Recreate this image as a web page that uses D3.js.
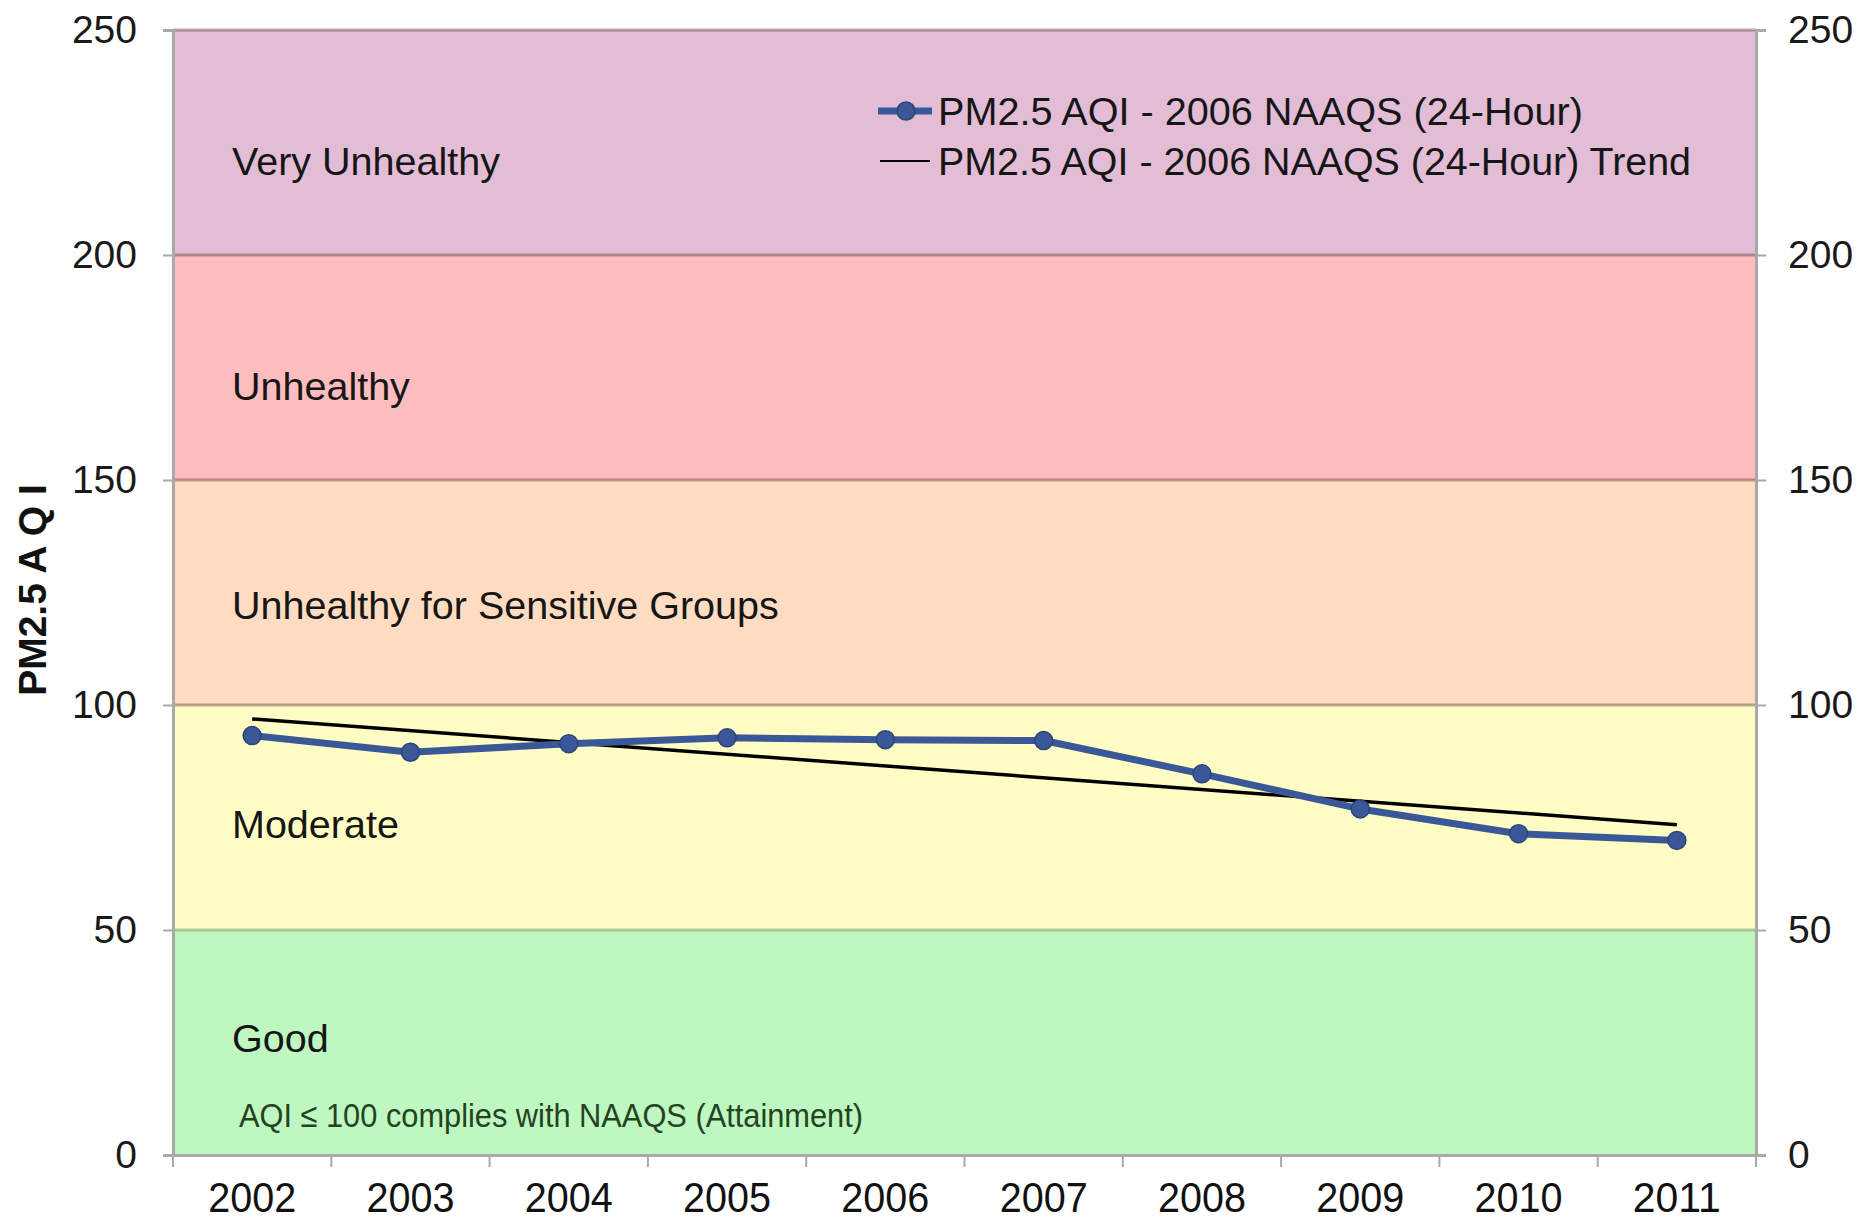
<!DOCTYPE html>
<html>
<head>
<meta charset="utf-8">
<script src="https://cdn.jsdelivr.net/npm/d3@7"></script>
<style>
  html, body { margin: 0; padding: 0; background: #ffffff; }
  svg { display: block; font-family: "Liberation Sans", Arial, sans-serif; }
</style>
</head>
<body>
<svg id="chart" width="1874" height="1232"></svg>
<script>
// ---- data ----
const years = ["2002","2003","2004","2005","2006","2007","2008","2009","2010","2011"];
const aqiValues = [93.2, 89.5, 91.4, 92.7, 92.3, 92.1, 84.7, 76.9, 71.4, 69.9];
const trendYears = ["2002", "2011"];
const trendValues = [96.9, 73.4];
const yTicks = [0, 50, 100, 150, 200, 250];
const bandNames = ["Good", "Moderate", "Unhealthy for Sensitive Groups", "Unhealthy", "Very Unhealthy"];
const bandLower = [0, 50, 100, 150, 200];
const bandUpper = [50, 100, 150, 200, 250];
const bandColors = ["#bff7c1", "#fffdc3", "#fddcc1", "#fdbdbf", "#e3bdd6"];
const noteText = "AQI \u2264 100 complies with NAAQS (Attainment)";
const yAxisTitle = "PM2.5 A Q I";
const legendLabels = ["PM2.5 AQI - 2006 NAAQS (24-Hour)", "PM2.5 AQI - 2006 NAAQS (24-Hour) Trend"];

// ---- layout ----
const L = 173, R = 1756, T = 30, B = 1155;
const svg = d3.select("#chart");

const x = d3.scaleBand().domain(years).range([L, R]).paddingInner(0).paddingOuter(0);
const y = d3.scaleLinear().domain([0, 250]).range([B, T]);

// bands
const bands = bandNames.map((n, i) => ({name: n, lo: bandLower[i], hi: bandUpper[i], color: bandColors[i]}));
svg.append("g").selectAll("rect").data(bands).join("rect")
  .attr("x", L).attr("width", R - L)
  .attr("y", d => y(d.hi)).attr("height", d => y(d.lo) - y(d.hi))
  .attr("fill", d => d.color);

// band boundary lines
svg.append("g").selectAll("line").data(yTicks.filter(v => v > 0)).join("line")
  .attr("x1", L).attr("x2", R)
  .attr("y1", d => y(d)).attr("y2", d => y(d))
  .attr("stroke", d => d === 50 ? "rgba(100,125,80,0.4)" : "rgba(105,65,65,0.45)")
  .attr("stroke-width", 3);

// band labels
const labelDy = {"Very Unhealthy": 131, "Unhealthy": 131, "Unhealthy for Sensitive Groups": 125, "Moderate": 119, "Good": 108};
svg.append("g").selectAll("text").data(bands).join("text")
  .attr("x", 232)
  .attr("y", d => y(d.hi) + labelDy[d.name])
  .attr("dy", "0.36em")
  .attr("font-size", 39.5)
  .attr("fill", "#161616")
  .text(d => d.name);

svg.append("text")
  .attr("x", 239).attr("y", 1127)
  .attr("font-size", 34)
  .attr("fill", "#234323")
  .attr("textLength", 624).attr("lengthAdjust", "spacingAndGlyphs")
  .text(noteText);

// axes
const axisColor = "#a9a9a9";
const leftAxis = svg.append("g").attr("transform", `translate(${L},0)`)
  .call(d3.axisLeft(y).tickValues(yTicks).tickSize(10).tickPadding(26));
const rightAxis = svg.append("g").attr("transform", `translate(${R},0)`)
  .call(d3.axisRight(y).tickValues(yTicks).tickSize(10).tickPadding(22));
[leftAxis, rightAxis].forEach(g => {
  g.select(".domain").attr("stroke", axisColor).attr("stroke-width", 3);
  g.selectAll(".tick line").attr("stroke", axisColor).attr("stroke-width", 2);
  g.selectAll(".tick text").attr("font-size", 39).attr("fill", "#1a1a1a")
    .attr("font-family", "'Liberation Sans', Arial, sans-serif");
});

// bottom axis: labels at category centers, ticks at boundaries
const bottom = svg.append("g").attr("transform", `translate(0,${B})`)
  .call(d3.axisBottom(x).tickSize(0).tickPadding(26));
bottom.select(".domain").attr("stroke", axisColor).attr("stroke-width", 3);
bottom.selectAll(".tick text")
  .attr("font-size", 43).attr("fill", "#111")
  .attr("font-family", "'Liberation Sans', Arial, sans-serif")
  .attr("textLength", 88).attr("lengthAdjust", "spacingAndGlyphs");
const boundaries = years.map(yr => x(yr)).concat([x(years[years.length - 1]) + x.bandwidth()]);
bottom.append("g").selectAll("line").data(boundaries).join("line")
  .attr("x1", d => d).attr("x2", d => d).attr("y1", 0).attr("y2", 12)
  .attr("stroke", axisColor).attr("stroke-width", 2);

// y axis title
svg.append("text")
  .attr("transform", `translate(32,590) rotate(-90)`)
  .attr("text-anchor", "middle").attr("dy", "0.36em")
  .attr("font-size", 39).attr("font-weight", "bold").attr("fill", "#111")
  .text(yAxisTitle);

// trend line
const cx = d => x(d) + x.bandwidth() / 2;
const trend = trendYears.map((yr, i) => ({yr, v: trendValues[i]}));
svg.append("path").datum(trend)
  .attr("fill", "none").attr("stroke", "#000").attr("stroke-width", 3.5)
  .attr("d", d3.line().x(d => cx(d.yr)).y(d => y(d.v)));

// data series
const series = years.map((yr, i) => ({yr, v: aqiValues[i]}));
svg.append("path").datum(series)
  .attr("fill", "none").attr("stroke", "#3a5898").attr("stroke-width", 7)
  .attr("stroke-linejoin", "round")
  .attr("d", d3.line().x(d => cx(d.yr)).y(d => y(d.v)));
svg.append("g").selectAll("circle").data(series).join("circle")
  .attr("cx", d => cx(d.yr)).attr("cy", d => y(d.v)).attr("r", 9)
  .attr("fill", "#3a5898").attr("stroke", "#2b4579").attr("stroke-width", 1.5);

// legend
const lg = svg.append("g");
lg.append("line").attr("x1", 878).attr("x2", 932).attr("y1", 111).attr("y2", 111)
  .attr("stroke", "#3a5898").attr("stroke-width", 7);
lg.append("circle").attr("cx", 906).attr("cy", 111).attr("r", 9)
  .attr("fill", "#3a5898").attr("stroke", "#2b4579").attr("stroke-width", 1.5);
lg.append("line").attr("x1", 880).attr("x2", 930).attr("y1", 161).attr("y2", 161)
  .attr("stroke", "#000").attr("stroke-width", 2);
lg.selectAll("text").data(legendLabels).join("text")
  .attr("x", 938).attr("y", (d, i) => 111 + i * 50).attr("dy", "0.36em")
  .attr("font-size", 39).attr("fill", "#161616")
  .attr("textLength", (d, i) => i === 0 ? 645 : 753).attr("lengthAdjust", "spacingAndGlyphs")
  .text(d => d);
</script>
</body>
</html>
